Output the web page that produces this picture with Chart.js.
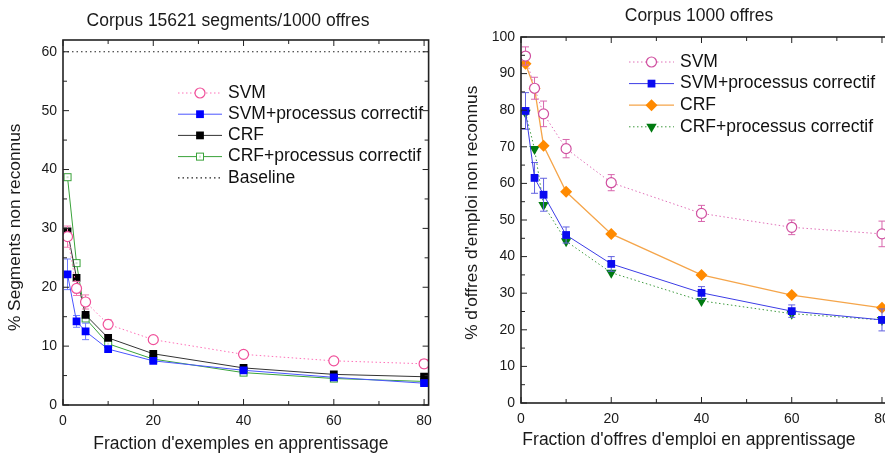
<!DOCTYPE html>
<html>
<head>
<meta charset="utf-8">
<script src="https://cdn.jsdelivr.net/npm/chart.js@4.4.1/dist/chart.umd.min.js"></script>
<style>
  html, body { margin: 0; padding: 0; background: #fff; }
  #left { position: absolute; left: 0; top: 0; width: 440px; height: 455px; }
  #right { position: absolute; left: 445px; top: 0; width: 440px; height: 455px; overflow: hidden; }
</style>
</head>
<body>
<div id="left"><canvas id="segChart" width="440" height="455"></canvas></div>
<div id="right"><canvas id="offChart" width="460" height="455"></canvas></div>
<script>
// fraction d'apprentissage (%)
const fractions = [1, 3, 5, 10, 20, 40, 60, 80];

// Corpus 15621 segments/1000 offres
const segSvm = [28.6, 19.8, 17.5, 13.7, 11.1, 8.6, 7.5, 7.0];
const segSvmErr = [1.8, 1.2, 1.2, 0.8, 0.5, 0.4, 0.4, 0.7];
const segSvmPc = [22.2, 14.2, 12.5, 9.5, 7.5, 5.9, 4.7, 3.7];
const segSvmPcErr = [2.6, 1.0, 1.4, 0.5, 0.3, 0.3, 0.3, 0.5];
const segCrf = [29.5, 21.6, 15.3, 11.4, 8.7, 6.3, 5.2, 4.8];
const segCrfPc = [38.7, 24.1, 14.7, 10.4, 7.8, 5.5, 4.5, 4.0];
const segBaseline = 60;

// Corpus 1000 offres
const offSvm = [94.8, 86, 79, 69.5, 60.2, 51.8, 48, 46.2];
const offSvmErr = [2.5, 3, 3.5, 2.5, 2.2, 2.2, 2, 3.5];
const offSvmPc = [79.8, 61.5, 56.9, 45.9, 38, 30.1, 25.1, 22.7];
const offSvmPcErr = [5, 4.2, 4.5, 2.2, 2, 1.7, 1.7, 3];
const offCrf = [92.7, 85.9, 70.3, 57.7, 46.2, 35, 29.5, 26];
const offCrfPc = [79.3, 69.4, 54.1, 44.2, 35.6, 27.9, 24.4, 22.7];

const FONT = '"Liberation Sans", Arial, Helvetica, sans-serif';
Chart.defaults.font.family = FONT;
Chart.defaults.color = '#1a1a1a';

const pts = (vals) => vals.map((v, i) => ({ x: fractions[i], y: v }));
const nb = (n) => '\u00a0'.repeat(n);

// petit carré vert ouvert avec point central
function dotSquare(color) {
  const c = document.createElement('canvas');
  c.width = 10; c.height = 10;
  const g = c.getContext('2d');
  g.fillStyle = '#fff';
  g.fillRect(1, 1, 8, 8);
  g.strokeStyle = color;
  g.lineWidth = 1;
  g.strokeRect(1.5, 1.5, 7, 7);
  g.fillStyle = color;
  g.fillRect(4.5, 4.5, 1, 1);
  return c;
}

// barres d'erreur (sous les marqueurs)
const errorBars = {
  id: 'errorBars',
  beforeDatasetDraw(chart, args) {
    const ds = chart.data.datasets[args.index];
    if (!ds.errors) return;
    const xs = chart.scales.x, ys = chart.scales.y, ctx = chart.ctx;
    ctx.save();
    ctx.strokeStyle = ds.errorColor;
    ctx.lineWidth = 1;
    ds.data.forEach((p, i) => {
      const e = ds.errors[i];
      if (!e) return;
      const px = xs.getPixelForValue(p.x);
      const top = ys.getPixelForValue(p.y + e);
      const bot = ys.getPixelForValue(p.y - e);
      ctx.beginPath();
      ctx.moveTo(px, top); ctx.lineTo(px, bot);
      ctx.moveTo(px - 3.5, top); ctx.lineTo(px + 3.5, top);
      ctx.moveTo(px - 3.5, bot); ctx.lineTo(px + 3.5, bot);
      ctx.stroke();
    });
    ctx.restore();
  }
};

// cadre + graduations intérieures
const frame = {
  id: 'frame',
  afterDatasetsDraw(chart, args, opts) {
    const { ctx, chartArea: a, scales: { x, y } } = chart;
    ctx.save();
    ctx.strokeStyle = '#222';
    ctx.lineWidth = 1;
    ctx.beginPath();
    for (let v = 0; v <= x.max; v += opts.xMinor) {
      const px = x.getPixelForValue(v);
      const len = v % opts.xMajor === 0 ? 6 : 4;
      ctx.moveTo(px, a.bottom); ctx.lineTo(px, a.bottom - len);
      ctx.moveTo(px, a.top); ctx.lineTo(px, a.top + len);
    }
    for (let v = 0; v <= y.max; v += opts.yMinor) {
      const py = y.getPixelForValue(v);
      const len = v % opts.yMajor === 0 ? 6 : 4;
      ctx.moveTo(a.left, py); ctx.lineTo(a.left + len, py);
      ctx.moveTo(a.right, py); ctx.lineTo(a.right - len, py);
    }
    ctx.stroke();
    ctx.lineWidth = 1.6;
    ctx.strokeRect(a.left, a.top, a.right - a.left, a.bottom - a.top);
    ctx.restore();
  }
};

// titre centré sur une position donnée
const topTitle = {
  id: 'topTitle',
  afterDraw(chart, args, opts) {
    const ctx = chart.ctx;
    ctx.save();
    ctx.font = '17.5px ' + FONT;
    ctx.fillStyle = '#1a1a1a';
    ctx.textAlign = 'center';
    ctx.textBaseline = 'middle';
    ctx.fillText(opts.text, opts.x, opts.y);
    ctx.restore();
  }
};

// légende dans la zone de tracé
const inLegend = {
  id: 'inLegend',
  afterDraw(chart, args, opts) {
    const ctx = chart.ctx;
    ctx.save();
    ctx.font = '17.5px ' + FONT;
    ctx.textBaseline = 'middle';
    chart.data.datasets.forEach((ds, i) => {
      const y = opts.y + i * opts.step;
      ctx.strokeStyle = ds.borderColor;
      ctx.lineWidth = ds.borderWidth;
      ctx.setLineDash(ds.borderDash || []);
      ctx.beginPath();
      ctx.moveTo(opts.x, y); ctx.lineTo(opts.x + opts.len, y);
      ctx.stroke();
      ctx.setLineDash([]);
      if (ds.pointRadius > 0) {
        ctx.fillStyle = ds.pointBackgroundColor;
        ctx.strokeStyle = ds.pointBorderColor;
        ctx.lineWidth = ds.pointBorderWidth;
        Chart.helpers.drawPoint(ctx, {
          pointStyle: ds.pointStyle, rotation: ds.pointRotation || 0,
          radius: ds.pointRadius, borderWidth: ds.pointBorderWidth
        }, opts.x + opts.len / 2, y);
      }
      ctx.fillStyle = '#111';
      ctx.fillText(ds.label, opts.x + opts.len + 6, y);
    });
    ctx.restore();
  }
};

function axes(cfg) {
  return {
    x: {
      type: 'linear', min: 0, max: cfg.xMax,
      afterFit: (s) => { s.height = cfg.xHeight; },
      grid: { display: false, drawTicks: false }, border: { display: false },
      ticks: { stepSize: 20, includeBounds: false, padding: 8, font: { size: 14 }, color: '#1a1a1a' },
      title: { display: true, text: cfg.xTitle, font: { size: 17.5, lineHeight: 1 }, padding: { top: 0, bottom: cfg.xTitlePad }, color: '#1a1a1a' }
    },
    y: {
      min: 0, max: cfg.yMax,
      afterFit: (s) => { s.width = cfg.yWidth; },
      grid: { display: false, drawTicks: false }, border: { display: false },
      ticks: { stepSize: 10, includeBounds: false, padding: 6, font: { size: 14 }, color: '#1a1a1a' },
      title: { display: true, text: cfg.yTitle, font: { size: 17.3, lineHeight: 1 }, padding: { top: cfg.yTitlePad, bottom: 0 }, color: '#1a1a1a' }
    }
  };
}

new Chart(document.getElementById('segChart'), {
  type: 'scatter',
  data: {
    datasets: [
      { label: 'SVM', data: pts(segSvm), errors: segSvmErr, errorColor: '#f27bb0',
        showLine: true, borderColor: '#ff70b8', borderWidth: 1, borderDash: [1.5, 2.5],
        pointStyle: 'circle', pointRadius: 5, pointBorderWidth: 1.2,
        pointBackgroundColor: '#fff', pointBorderColor: '#f0509a' },
      { label: 'SVM+processus correctif', data: pts(segSvmPc), errors: segSvmPcErr, errorColor: '#6f7cff',
        showLine: true, borderColor: '#4a55ff', borderWidth: 1,
        pointStyle: 'rect', pointRadius: 5.5, pointBorderWidth: 0,
        pointBackgroundColor: '#0000ff', pointBorderColor: '#0000ff' },
      { label: 'CRF', data: pts(segCrf),
        showLine: true, borderColor: '#333', borderWidth: 1,
        pointStyle: 'rect', pointRadius: 5.5, pointBorderWidth: 0,
        pointBackgroundColor: '#000', pointBorderColor: '#000' },
      { label: 'CRF+processus correctif', data: pts(segCrfPc),
        showLine: true, borderColor: '#3aa33a', borderWidth: 1,
        pointStyle: dotSquare('#3aa33a'), pointRadius: 5, pointBorderWidth: 0,
        pointBackgroundColor: '#fff', pointBorderColor: '#3aa33a' },
      { label: 'Baseline', data: [{ x: 0, y: segBaseline }, { x: 81, y: segBaseline }],
        showLine: true, borderColor: '#222', borderWidth: 1.2, borderDash: [1.5, 3],
        pointRadius: 0, pointHoverRadius: 0 }
    ]
  },
  options: {
    responsive: false, animation: false,
    layout: { padding: { left: 0, right: 10, top: 40, bottom: 0 } },
    scales: axes({ xMax: 81, yMax: 62, xHeight: 50, yWidth: 63, xTitlePad: 2.5, yTitlePad: 7,
      xTitle: "Fraction d'exemples en apprentissage" + nb(2), yTitle: '% Segments non reconnus' + nb(2) }),
    plugins: {
      legend: { display: false },
      tooltip: { enabled: false },
      topTitle: { text: 'Corpus 15621 segments/1000 offres', x: 228, y: 21 },
      frame: { xMinor: 10, xMajor: 20, yMinor: 5, yMajor: 10 },
      inLegend: { x: 178, y: 93, step: 21.2, len: 44 }
    }
  },
  plugins: [errorBars, frame, inLegend, topTitle]
});

new Chart(document.getElementById('offChart'), {
  type: 'scatter',
  data: {
    datasets: [
      { label: 'SVM', data: pts(offSvm), errors: offSvmErr, errorColor: '#d866ad',
        showLine: true, borderColor: '#e070b8', borderWidth: 1, borderDash: [1.5, 2.5],
        pointStyle: 'circle', pointRadius: 5, pointBorderWidth: 1.2,
        pointBackgroundColor: '#fff', pointBorderColor: '#d04fa0' },
      { label: 'SVM+processus correctif', data: pts(offSvmPc), errors: offSvmPcErr, errorColor: '#6262e0',
        showLine: true, borderColor: '#3c3ce6', borderWidth: 1,
        pointStyle: 'rect', pointRadius: 5.5, pointBorderWidth: 0,
        pointBackgroundColor: '#0a0af0', pointBorderColor: '#0a0af0' },
      { label: 'CRF', data: pts(offCrf),
        showLine: true, borderColor: '#f5a54a', borderWidth: 1.3,
        pointStyle: 'rectRot', pointRadius: 6, pointBorderWidth: 0,
        pointBackgroundColor: '#ff8a00', pointBorderColor: '#ff8a00' },
      { label: 'CRF+processus correctif', data: pts(offCrfPc),
        showLine: true, borderColor: '#3f9a3f', borderWidth: 1, borderDash: [1.5, 2.5],
        pointStyle: 'triangle', pointRotation: 180, pointRadius: 6, pointBorderWidth: 0,
        pointBackgroundColor: '#007a10', pointBorderColor: '#007a10' }
    ]
  },
  options: {
    responsive: false, animation: false,
    layout: { padding: { left: 0, right: 14, top: 37, bottom: 0 } },
    scales: axes({ xMax: 82, yMax: 100, xHeight: 52, yWidth: 76, xTitlePad: 6.5, yTitlePad: 19,
      xTitle: "Fraction d'offres d'emploi en apprentissage" + nb(7), yTitle: nb(3) + "% d'offres d'emploi non reconnus" }),
    plugins: {
      legend: { display: false },
      tooltip: { enabled: false },
      topTitle: { text: 'Corpus 1000 offres', x: 254, y: 16 },
      frame: { xMinor: 10, xMajor: 20, yMinor: 5, yMajor: 10 },
      inLegend: { x: 184, y: 62, step: 21.6, len: 45 }
    }
  },
  plugins: [errorBars, frame, inLegend, topTitle]
});
</script>
</body>
</html>
